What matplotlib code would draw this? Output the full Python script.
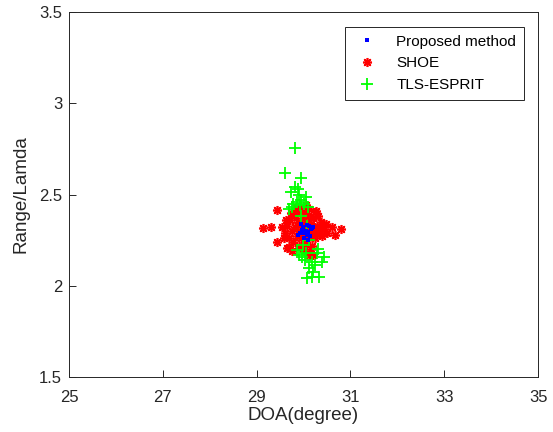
import matplotlib
matplotlib.use("Agg")
import matplotlib.pyplot as plt

plt.rcParams["font.family"] = ["Liberation Sans", "DejaVu Sans"]

# Proposed method estimates (DOA in degree, range / lambda)
prop_doa = [29.96, 29.89, 30.08, 30.19, 30.10, 30.14, 30.02, 29.98, 30.05, 30.12,
            29.93, 30.00, 30.07, 30.16, 29.95, 30.03, 30.21, 30.09]
prop_rng = [2.305, 2.278, 2.333, 2.315, 2.251, 2.273, 2.29, 2.32, 2.30, 2.33,
            2.29, 2.26, 2.28, 2.31, 2.34, 2.30, 2.32, 2.295]

# SHOE estimates
shoe_doa = [29.14, 29.30, 29.43, 29.54, 29.43, 29.64, 30.79, 30.67, 30.60, 30.48,
            30.21, 30.25, 29.60, 29.65, 29.70, 29.72, 29.75, 29.78, 29.80, 29.82,
            29.85, 29.86, 29.88, 29.90, 29.92, 29.94, 29.95, 29.97, 29.99, 30.00,
            30.02, 30.04, 30.05, 30.07, 30.09, 30.10, 30.12, 30.14, 30.16, 30.18,
            30.20, 30.22, 30.25, 30.28, 30.30, 30.33, 30.36, 30.40, 30.44, 29.68,
            29.76, 29.84, 30.06, 30.15, 30.26, 29.58, 29.62, 30.38, 30.50, 29.73,
            30.02, 30.11]
shoe_rng = [2.315, 2.324, 2.415, 2.324, 2.241, 2.205, 2.309, 2.278, 2.324, 2.338,
            2.168, 2.406, 2.29, 2.33, 2.26, 2.36, 2.30, 2.24, 2.38, 2.32,
            2.27, 2.40, 2.35, 2.22, 2.30, 2.42, 2.26, 2.37, 2.33, 2.23,
            2.40, 2.28, 2.35, 2.25, 2.38, 2.31, 2.42, 2.27, 2.34, 2.22,
            2.37, 2.30, 2.26, 2.33, 2.38, 2.29, 2.32, 2.27, 2.31, 2.21,
            2.19, 2.43, 2.44, 2.20, 2.41, 2.26, 2.36, 2.35, 2.29, 2.40,
            2.19, 2.17]

# TLS-ESPRIT estimates
tls_doa = [29.82, 29.61, 29.94, 29.82, 29.73, 29.88, 30.05, 29.75, 29.95, 29.85,
           29.90, 29.78, 30.00, 29.92, 29.70, 30.10, 30.44, 30.39, 30.28, 30.03,
           30.25, 30.21, 30.08, 30.32, 30.17, 29.85, 29.99, 29.96, 30.12, 30.06,
           29.90, 30.18, 30.30, 29.95, 30.12, 30.08]
tls_rng = [2.753, 2.616, 2.592, 2.543, 2.512, 2.528, 2.488, 2.431, 2.47, 2.46,
           2.50, 2.45, 2.45, 2.44, 2.42, 2.43, 2.159, 2.132, 2.178, 2.141,
           2.114, 2.077, 2.041, 2.05, 2.05, 2.196, 2.223, 2.159, 2.10, 2.18,
           2.17, 2.13, 2.20, 2.38, 2.25, 2.33]

fig = plt.figure(figsize=(5.53, 4.32), dpi=100)
ax = fig.add_axes([0.1248, 0.1273, 0.8482, 0.8449])

h_shoe, = ax.plot(shoe_doa, shoe_rng, linestyle="none", marker=(8, 2, 0), color=(1, 0, 0),
                  markersize=6.5, markeredgewidth=1.2)
h_tls, = ax.plot(tls_doa, tls_rng, linestyle="none", marker="+", color=(0, 1, 0),
                 markersize=8.5, markeredgewidth=1.3)
h_prop, = ax.plot(prop_doa, prop_rng, linestyle="none", marker="s", color=(0, 0, 1),
                  markersize=2.8, markeredgewidth=0)

ax.set_xlim(25, 35)
ax.set_ylim(1.5, 3.5)
ax.set_xticks([25, 27, 29, 31, 33, 35])
ax.set_yticks([1.5, 2, 2.5, 3, 3.5])
ax.set_yticklabels(["1.5", "2", "2.5", "3", "3.5"])
ax.tick_params(direction="in", labelsize=12, length=5, width=0.7, colors="#262626")
ax.tick_params(axis="x", pad=9)
ax.tick_params(axis="y", pad=5)
for sp in ax.spines.values():
    sp.set_linewidth(0.7)
    sp.set_color("#262626")

ax.set_xlabel("DOA(degree)", fontsize=13.5, color="#262626", labelpad=2)
ax.set_ylabel("Range/Lamda", fontsize=13.5, color="#262626", labelpad=7)

leg = ax.legend([h_prop, h_shoe, h_tls], ["Proposed method", "SHOE", "TLS-ESPRIT"],
                loc="upper right", bbox_to_anchor=(0.970, 0.959), borderaxespad=0,
                fontsize=11, fancybox=False, framealpha=1, edgecolor="#262626",
                handlelength=2.0, handletextpad=0.9, borderpad=0.5, labelspacing=0.5)
leg.get_frame().set_linewidth(0.7)

fig.savefig("out.png", dpi=100)
